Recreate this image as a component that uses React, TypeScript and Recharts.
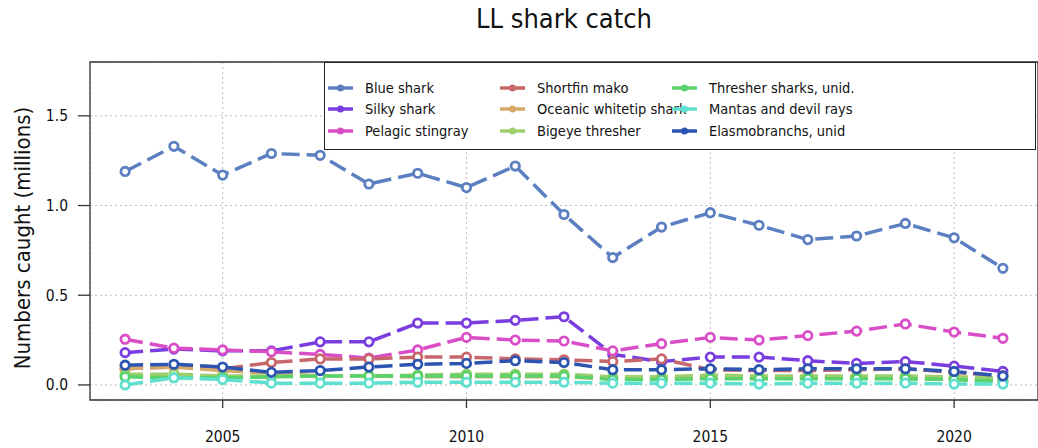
import React from "react";
import { LineChart, Line, XAxis, YAxis, CartesianGrid, ReferenceArea, Legend } from "recharts";

const years = [2003, 2004, 2005, 2006, 2007, 2008, 2009, 2010, 2011, 2012, 2013, 2014, 2015, 2016, 2017, 2018, 2019, 2020, 2021];

const blueShark = [1.19, 1.33, 1.17, 1.29, 1.28, 1.12, 1.18, 1.1, 1.22, 0.95, 0.71, 0.88, 0.96, 0.89, 0.81, 0.83, 0.9, 0.82, 0.65];
const silkyShark = [0.18, 0.2, 0.19, 0.19, 0.24, 0.24, 0.345, 0.345, 0.36, 0.38, 0.17, 0.13, 0.155, 0.155, 0.135, 0.12, 0.13, 0.105, 0.075];
const pelagicStingray = [0.255, 0.205, 0.195, 0.185, 0.17, 0.15, 0.195, 0.265, 0.25, 0.245, 0.19, 0.23, 0.265, 0.25, 0.275, 0.3, 0.34, 0.295, 0.26];
const shortfinMako = [0.09, 0.1, 0.09, 0.125, 0.145, 0.145, 0.155, 0.155, 0.145, 0.14, 0.13, 0.145, 0.085, 0.08, 0.08, 0.085, 0.09, 0.07, 0.05];
const oceanicWhitetip = [0.09, 0.1, 0.08, 0.065, 0.05, 0.05, 0.045, 0.045, 0.045, 0.045, 0.035, 0.04, 0.04, 0.035, 0.04, 0.04, 0.035, 0.03, 0.02];
const bigeyeThresher = [0.06, 0.06, 0.05, 0.05, 0.05, 0.05, 0.055, 0.06, 0.06, 0.06, 0.045, 0.045, 0.055, 0.05, 0.05, 0.05, 0.05, 0.045, 0.04];
const thresherUnid = [0.045, 0.04, 0.04, 0.045, 0.05, 0.05, 0.05, 0.05, 0.05, 0.05, 0.03, 0.03, 0.035, 0.035, 0.035, 0.035, 0.035, 0.03, 0.02];
const mantas = [0.0, 0.04, 0.03, 0.01, 0.01, 0.01, 0.015, 0.015, 0.015, 0.015, 0.01, 0.01, 0.01, 0.005, 0.01, 0.01, 0.01, 0.005, 0.005];
const elasmobranchs = [0.11, 0.115, 0.1, 0.07, 0.08, 0.1, 0.115, 0.12, 0.135, 0.125, 0.085, 0.085, 0.09, 0.085, 0.09, 0.09, 0.09, 0.075, 0.05];

const xTicks = [2005, 2010, 2015, 2020];
const yTicks = [0, 0.5, 1, 1.5];

const series = [
  { key: "blue", name: "Blue shark", color: "#5b7fc0", values: blueShark },
  { key: "silky", name: "Silky shark", color: "#7a3ddf", values: silkyShark },
  { key: "stingray", name: "Pelagic stingray", color: "#d94dc6", values: pelagicStingray },
  { key: "mako", name: "Shortfin mako", color: "#c8676b", values: shortfinMako },
  { key: "whitetip", name: "Oceanic whitetip shark", color: "#d6a96a", values: oceanicWhitetip },
  { key: "bigeye", name: "Bigeye thresher", color: "#9fcf6c", values: bigeyeThresher },
  { key: "thresher", name: "Thresher sharks, unid.", color: "#5ad26c", values: thresherUnid },
  { key: "mantas", name: "Mantas and devil rays", color: "#5fe0cf", values: mantas },
  { key: "elasmo", name: "Elasmobranchs, unid", color: "#2b55b0", values: elasmobranchs },
];

const data = years.map((year, i) => {
  const row: any = { year };
  series.forEach((s) => (row[s.key] = s.values[i]));
  return row;
});

const FONT = "'DejaVu Sans Condensed', 'DejaVu Sans', sans-serif";
const X_DOMAIN = [2002.28, 2021.72];
const Y_DOMAIN = [-0.084, 1.8];

const makeDot = (color: string) => (props: any) => {
  const { cx, cy, index } = props;
  if (cx == null || cy == null) return <g key={index} />;
  return <circle key={index} cx={cx} cy={cy} r={4.2} fill="#fff" stroke={color} strokeWidth={2.8} />;
};

const LegendBox = () => {
  const cols = [series.slice(0, 3), series.slice(3, 6), series.slice(6, 9)];
  const colWidths = [172, 172, 366];
  return (
    <div
      style={{
        border: "1px solid #222",
        background: "#fff",
        width: 712,
        height: 88,
        boxSizing: "border-box",
        display: "flex",
        paddingTop: 14,
        fontFamily: FONT,
        fontSize: 14.5,
        color: "#111",
      }}
    >
      {cols.map((col, ci) => (
        <div key={ci} style={{ width: colWidths[ci] }}>
          {col.map((s) => (
            <div key={s.key} style={{ display: "flex", alignItems: "center", height: 21.5 }}>
              <svg width={40} height={12} style={{ flex: "none" }}>
                <line x1={3} y1={6} x2={28} y2={6} stroke={s.color} strokeWidth={3.5} />
                <circle cx={15.5} cy={6} r={3.5} fill={s.color} />
              </svg>
              <span style={{ whiteSpace: "nowrap" }}>{s.name}</span>
            </div>
          ))}
        </div>
      ))}
    </div>
  );
};

export default function App() {
  return (
    <div style={{ position: "absolute", left: 0, top: 0, width: 1038, height: 448, background: "#fff" }}>
      <div
        style={{
          position: "absolute",
          left: 90,
          width: 948,
          top: 3,
          textAlign: "center",
          fontFamily: FONT,
          fontSize: 27,
          color: "#111",
        }}
      >
        LL shark catch
      </div>
      <div
        style={{
          position: "absolute",
          left: 22,
          top: 238,
          transform: "translate(-50%, -50%) rotate(-90deg)",
          whiteSpace: "nowrap",
          fontFamily: FONT,
          fontSize: 22,
          color: "#111",
        }}
      >
        Numbers caught (millions)
      </div>
      <LineChart
        width={1038}
        height={448}
        data={data}
        margin={{ top: 62, right: 0, bottom: 0, left: 0 }}
        style={{ position: "absolute", left: 0, top: 0 }}
      >
        <CartesianGrid stroke="#bdbdbd" strokeDasharray="2 3" strokeWidth={1} />
        <XAxis
          dataKey="year"
          type="number"
          domain={X_DOMAIN}
          ticks={xTicks}
          allowDataOverflow
          height={48}
          axisLine={false}
          tickLine={{ stroke: "#333", strokeWidth: 1.3 }}
          tickSize={8}
          tickMargin={23}
          tick={{ fill: "#111", fontSize: 15.5, fontFamily: FONT }}
        />
        <YAxis
          type="number"
          domain={Y_DOMAIN}
          ticks={yTicks}
          allowDataOverflow
          width={90}
          axisLine={false}
          tickLine={{ stroke: "#333", strokeWidth: 1.3 }}
          tickSize={12}
          tickMargin={10}
          tickFormatter={(v: number) => v.toFixed(1)}
          tick={{ fill: "#111", fontSize: 15.5, fontFamily: FONT }}
        />
        <ReferenceArea
          x1={X_DOMAIN[0]}
          x2={X_DOMAIN[1]}
          y1={Y_DOMAIN[0]}
          y2={Y_DOMAIN[1]}
          fill="none"
          stroke="#333"
          strokeWidth={1.3}
          ifOverflow="visible"
        />
        {series.map((s) => (
          <Line
            key={s.key}
            dataKey={s.key}
            name={s.name}
            stroke={s.color}
            strokeWidth={3.5}
            strokeDasharray="18 7"
            dot={makeDot(s.color)}
            activeDot={false}
            isAnimationActive={false}
          />
        ))}
        <Legend
          layout="horizontal"
          verticalAlign="middle"
          align="center"
          content={() => <LegendBox />}
          wrapperStyle={{ left: 324, top: 62, width: 712, height: 88 }}
        />
      </LineChart>
    </div>
  );
}
